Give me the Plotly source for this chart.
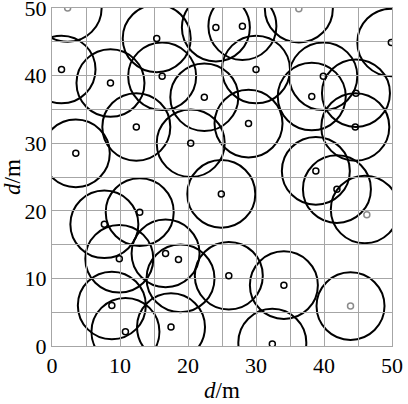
import plotly.graph_objects as go

# node positions (m): black nodes and grey nodes
px_black = [1.4, 8.6, 15.4, 16.2, 12.4, 3.5, 20.4, 22.4, 24.1, 28.0, 49.9, 30.0,
            39.9, 38.2, 44.7, 28.9, 44.6, 38.8, 24.9, 41.9, 12.9, 7.7, 9.9, 16.7,
            18.6, 8.8, 10.8, 17.5, 26.0, 34.1, 32.4]
py_black = [40.9, 38.9, 45.5, 39.9, 32.4, 28.5, 30.0, 36.8, 47.1, 47.3, 44.9, 40.9,
            39.9, 36.9, 37.4, 32.9, 32.4, 25.9, 22.5, 23.2, 19.8, 18.0, 12.9, 13.7,
            12.8, 6.0, 2.1, 2.8, 10.4, 9.0, 0.3]
px_gray = [2.3, 36.3, 46.3, 43.9]
py_gray = [50.0, 49.9, 19.4, 5.9]

# coverage circle centres (m)
cx_circle = [2.3, 1.4, 8.6, 15.4, 16.2, 12.4, 3.5, 20.4, 22.4, 24.1, 28.0, 36.3,
             49.9, 30.0, 39.9, 38.2, 44.7, 28.9, 44.6, 38.8, 24.9, 41.9, 46.0,
             12.9, 7.7, 9.9, 16.7, 18.9, 8.8, 10.8, 17.5, 26.0, 34.1, 43.9, 32.4]
cy_circle = [50.0, 40.9, 38.9, 45.5, 39.9, 32.4, 28.5, 30.0, 36.8, 47.1, 47.3, 49.9,
             44.9, 40.9, 39.9, 36.9, 37.4, 32.9, 32.4, 25.9, 22.5, 23.2, 20.2,
             19.8, 18.0, 12.9, 13.7, 10.0, 6.0, 2.1, 2.8, 10.4, 9.0, 5.9, 0.5]
radius = 5.0

tick_vals = [0, 5, 10, 15, 20, 25, 30, 35, 40, 45, 50]
tick_text = ["0", "", "10", "", "20", "", "30", "", "40", "", "50"]

SERIF = "Liberation Serif, Times New Roman, serif"

fig = go.Figure()

shapes = []
for cx, cy in zip(cx_circle, cy_circle):
    shapes.append(dict(type="circle", xref="x", yref="y",
                       x0=cx - radius, x1=cx + radius, y0=cy - radius, y1=cy + radius,
                       line=dict(color="black", width=2), layer="below"))

fig.add_trace(go.Scatter(x=px_black, y=py_black, mode="markers",
                         marker=dict(symbol="circle-open", size=6, color="black",
                                     line=dict(width=1.5, color="black")),
                         showlegend=False, hoverinfo="skip"))
fig.add_trace(go.Scatter(x=px_gray, y=py_gray, mode="markers",
                         marker=dict(symbol="circle-open", size=6, color="#8c8c8c",
                                     line=dict(width=1.5, color="#8c8c8c")),
                         showlegend=False, hoverinfo="skip"))

axis_common = dict(range=[0, 50], tickvals=tick_vals, ticktext=tick_text,
                   showgrid=True, gridcolor="#a6a6a6", gridwidth=1,
                   showline=True, linecolor="#a6a6a6", linewidth=1, mirror=True,
                   zeroline=False, ticks="", automargin=False,
                   ticklabeloverflow="allow",
                   tickfont=dict(family=SERIF, size=22, color="black"))

fig.update_layout(
    width=408, height=404,
    margin=dict(l=52, r=16, t=8, b=58),
    paper_bgcolor="white", plot_bgcolor="white",
    shapes=shapes,
    xaxis=dict(**axis_common,
               title=dict(text="<i>d</i>/m", standoff=4,
                          font=dict(family=SERIF, size=23, color="black"))),
    yaxis=dict(**axis_common,
               title=dict(text="<i>d</i>/m", standoff=4,
                          font=dict(family=SERIF, size=23, color="black"))),
)

fig.write_html("out.html", config={"displayModeBar": False},
               post_script="document.body.style.margin='0';")
